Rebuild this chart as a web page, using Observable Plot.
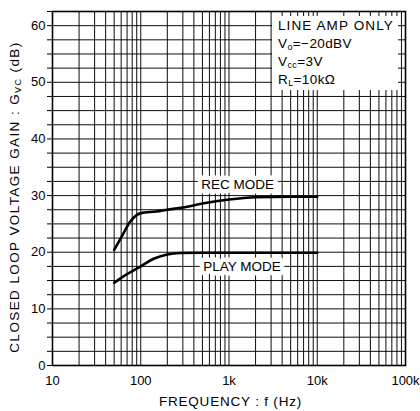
<!DOCTYPE html>
<html>
<head>
<meta charset="utf-8">
<script src="https://cdn.jsdelivr.net/npm/d3@7"></script>
<script src="https://cdn.jsdelivr.net/npm/@observablehq/plot@0.6"></script>
<style>
  html, body { margin: 0; padding: 0; background: #fff; }
  svg { display: block; }
</style>
</head>
<body>
<div id="chart"></div>
<script>
// ---- data ----
const recFreq  = [50, 63, 75, 89, 100, 150, 200, 300, 500, 1000, 2000, 5000, 10000];
const recGain  = [20.4, 23.2, 25.3, 26.5, 26.9, 27.2, 27.5, 27.9, 28.6, 29.3, 29.7, 29.8, 29.8];
const playFreq = [50, 63, 100, 138, 200, 280, 500, 1000, 10000];
const playGain = [14.6, 15.7, 17.5, 18.8, 19.6, 19.85, 19.9, 19.9, 19.9];

const xTicks = [10, 100, 1000, 10000, 100000];
const xTickLabels = ["10", "100", "1k", "10k", "100k"];
const yLabelTicks = [0, 10, 20, 30, 40, 50, 60];
const seriesLabels = ["REC MODE", "PLAY MODE"];
const labelFreq = [1250, 1400];
const labelGain = [31.9, 17.5];
const noteLines = [["LINE AMP ONLY", "", ""], ["V", "o", "=−20dBV"], ["V", "cc", "=3V"], ["R", "L", "=10kΩ"]];

// ---- derived tables ----
const rec = recFreq.map((f, i) => ({f, g: recGain[i]}));
const play = playFreq.map((f, i) => ({f, g: playGain[i]}));
const gridX = [];
for (const d of [10, 100, 1000, 10000]) for (let k = 1; k <= 9; k++) gridX.push(d * k);
gridX.push(100000);
const gridY = d3.range(0, 62.5 + 0.01, 2.5);
const labels = seriesLabels.map((t, i) => ({t, f: labelFreq[i], g: labelGain[i]}));

const font = "'Liberation Sans', Arial, Helvetica, sans-serif";

const plot = Plot.plot({
  width: 420,
  height: 411,
  marginLeft: 52,
  marginRight: 15,
  marginTop: 11,
  marginBottom: 46,
  style: {fontFamily: font, fontSize: "13px", color: "#000", background: "#fff"},
  x: {type: "log", domain: [10, 100000]},
  y: {domain: [0, 62.5]},
  marks: [
    Plot.ruleX(gridX, {stroke: "#000", strokeWidth: 1, strokeOpacity: 0.95}),
    Plot.ruleY(gridY, {stroke: "#000", strokeWidth: 1, strokeOpacity: 0.95}),
    Plot.axisX({ticks: xTicks, tickFormat: d => xTickLabels[xTicks.indexOf(d)], tickSize: 0, tickPadding: 10, label: null, fontSize: 13}),
    Plot.axisY({ticks: gridY, tickSize: 5, tickPadding: 2, tickFormat: d => yLabelTicks.includes(d) ? String(d) : "", label: null, fontSize: 13}),
    Plot.line(rec, {x: "f", y: "g", stroke: "#000", strokeWidth: 2.6, curve: "monotone-x"}),
    Plot.line(play, {x: "f", y: "g", stroke: "#000", strokeWidth: 2.6, curve: "monotone-x"}),
    Plot.text(labels, {x: "f", y: "g", text: "t", fill: "#000", stroke: "#fff", strokeWidth: 9, fontSize: 13.5, textAnchor: "middle", style: "letter-spacing:1.1px"}),
    Plot.frame({stroke: "#000", strokeWidth: 1.6})
  ]
});

document.getElementById("chart").appendChild(plot);

// ---- texts that need subscripts, placed from the plot's own scales ----
const svgSel = d3.select(plot);
const xs = plot.scale("x"), ys = plot.scale("y");
const pLeft = xs.range[0], pRight = xs.range[1];
const pTop = ys.range[1], pBottom = ys.range[0];

// note box (upper right)
const box = svgSel.append("g").attr("text-anchor", "start");
box.append("rect")
  .attr("x", pRight - 133).attr("y", pTop + 5)
  .attr("width", 126).attr("height", 74)
  .attr("fill", "#fff");
noteLines.forEach((ln, i) => {
  const t = box.append("text")
    .attr("x", pRight - 127).attr("y", pTop + 19 + i * 18)
    .attr("text-anchor", "start")
    .attr("font-family", font).attr("font-size", 13.5)
    .attr("letter-spacing", i === 0 ? "1.1px" : "0.4px")
    .attr("fill", "#000");
  t.append("tspan").text(ln[0]);
  if (ln[1]) t.append("tspan").attr("font-size", 9).attr("dy", 2).text(ln[1]);
  if (ln[2]) t.append("tspan").attr("dy", ln[1] ? -2 : 0).text(ln[2]);
});

// x title
svgSel.append("text")
  .attr("x", (pLeft + pRight) / 2 + 2).attr("y", pBottom + 41)
  .attr("text-anchor", "middle")
  .attr("font-family", font).attr("font-size", 13.5)
  .attr("letter-spacing", "0.8px")
  .attr("fill", "#000")
  .text("FREQUENCY : f (Hz)");

// y title
const yt = svgSel.append("text")
  .attr("transform", `translate(19,${(pTop + pBottom) / 2 + 9}) rotate(-90)`)
  .attr("text-anchor", "middle")
  .attr("font-family", font).attr("font-size", 13.5)
  .attr("letter-spacing", "1.4px")
  .attr("fill", "#000");
yt.append("tspan").text("CLOSED LOOP VOLTAGE GAIN : G");
yt.append("tspan").attr("font-size", 9).attr("dy", 2).text("VC");
yt.append("tspan").attr("dy", -2).text(" (dB)");
</script>
</body>
</html>
